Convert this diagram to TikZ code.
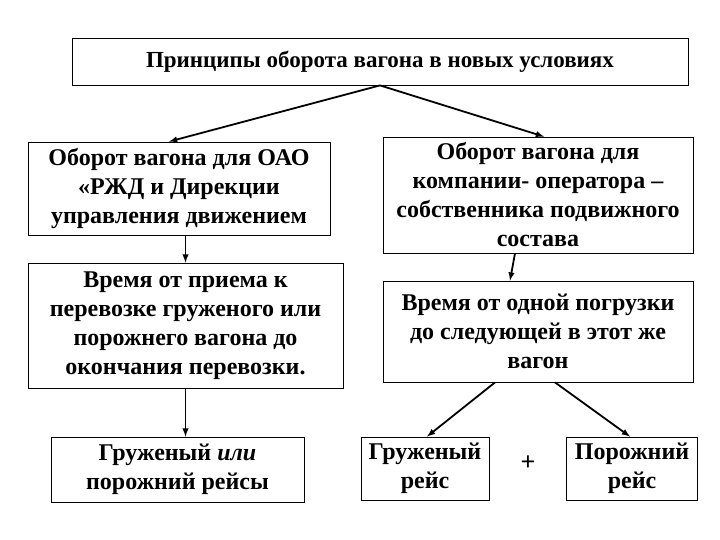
\documentclass[tikz,border=0pt]{standalone}
\usepackage{fontspec}
\setmainfont{Liberation Serif}
\usetikzlibrary{arrows}
\tikzstyle{block} = [draw,thick,align=center,inner sep=2pt,font=\bfseries\fontsize{24}{29}\selectfont]
\tikzstyle{arrow} = [->,>=latex,line width=1.8pt]
\begin{document}
\begin{tikzpicture}[x=1pt,y=-1pt]
  \useasboundingbox (0,0) rectangle (720,540);
  \node [block,minimum width=616,minimum height=47,font=\bfseries\fontsize{23}{28}\selectfont] (top) at (380,61.5) {Принципы оборота вагона в новых условиях};

  % left column
  \node [block,minimum width=302,minimum height=93] (l1) at (179,188.5) {Оборот вагона для ОАО\\«РЖД и Дирекции\\управления движением};
  \node [block,minimum width=315,minimum height=125] (l2) at (185.5,325.5) {Время от приема к\\перевозке груженого или\\порожнего вагона до\\окончания перевозки.};
  \node [block,minimum width=253,minimum height=65] (l3) at (177.5,469.5) {Груженый \textit{или}\\порожний рейсы};

  % right column
  \node [block,minimum width=310,minimum height=116] (r1) at (538,195) {Оборот вагона для\\компании- оператора --\\собственника подвижного\\состава};
  \node [block,minimum width=310,minimum height=101] (r2) at (538,331.5) {Время от одной погрузки\\до следующей в этот же\\вагон};
  \node [block,minimum width=128,minimum height=63] (r3) at (425,468.5) {Груженый\\рейс};
  \node [block,minimum width=131,minimum height=63] (r4) at (632,468.5) {Порожний\\рейс};
  \node [font=\bfseries\fontsize{26}{30}\selectfont] (plus) at (528,463) {+};

  \draw [arrow] (top.south) -- ([xshift=-10]l1.north);
  \draw [arrow] (top.south) -- ([xshift=6]r1.north);
  \draw [arrow] (l1.south -| l2.north) -- (l2.north);
  \draw [arrow] ([xshift=-23]r1.south) -- ([xshift=-28]r2.north);
  \draw [arrow] (l2.south) -- (l2.south |- l3.north);
  \draw [arrow] ([xshift=-43]r2.south) -- ([xshift=2]r3.north);
  \draw [arrow] ([xshift=17]r2.south) -- ([xshift=-2]r4.north);
\end{tikzpicture}
\end{document}
